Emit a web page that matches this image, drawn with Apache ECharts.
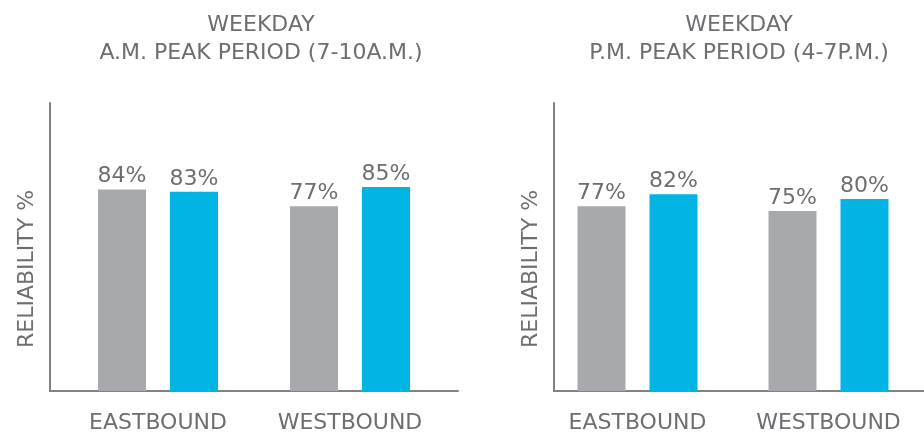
<!DOCTYPE html>
<html>
<head>
<meta charset="utf-8">
<script src="https://cdn.jsdelivr.net/npm/echarts@6/dist/echarts.min.js"></script>
<style>html,body{margin:0;padding:0;background:#fff;}#c{width:924px;height:434px;}</style>
</head>
<body>
<div id="c"></div>
<script>
const categories = ['EASTBOUND', 'WESTBOUND'];
const amGray = [84, 77];
const amBlue = [83, 85];
const pmGray = [77, 75];
const pmBlue = [82, 80];
const titles = ['WEEKDAY\nA.M. PEAK PERIOD (7-10A.M.)', 'WEEKDAY\nP.M. PEAK PERIOD (4-7P.M.)'];
const yName = 'RELIABILITY %';

const FONT = 'DejaVu Sans';
const FS = 22;
const TXT = '#6d6e71';
const AX = '#808285';
const GRAY = '#a7a9ac';
const BLUE = '#00b4e3';

const chart = echarts.init(document.getElementById('c'), null, {renderer: 'canvas'});

function axisX(gi) {
  return {type: 'value', gridIndex: gi, min: 0, max: 1,
    axisLine: {show: true, onZero: false, lineStyle: {color: AX, width: 2}},
    axisTick: {show: false}, axisLabel: {show: false}, splitLine: {show: false}};
}
function axisY(gi) {
  return {type: 'value', gridIndex: gi, min: 0, max: 1,
    name: yName, nameLocation: 'middle', nameGap: 12, nameRotate: 90,
    nameTextStyle: {fontFamily: FONT, fontSize: FS, color: TXT, padding: [0, 44, 0, 0]},
    axisLine: {show: true, lineStyle: {color: AX, width: 2}},
    axisTick: {show: false}, axisLabel: {show: false}, splitLine: {show: false}};
}
function barX(gi) {
  return {type: 'category', gridIndex: gi, data: categories,
    axisLine: {show: false}, axisTick: {show: false},
    axisLabel: {fontFamily: FONT, fontSize: FS, color: TXT, margin: 21}};
}
function barY(gi) {
  return {type: 'value', gridIndex: gi, min: 0, max: 120,
    axisLine: {show: false}, axisTick: {show: false}, axisLabel: {show: false}, splitLine: {show: false}};
}
function bar(xi, data, color) {
  return {type: 'bar', xAxisIndex: xi, yAxisIndex: xi, data: data, barWidth: 48, barGap: '50%',
    itemStyle: {color: color},
    label: {show: true, position: 'top', distance: 2, formatter: '{c}%',
      fontFamily: FONT, fontSize: FS, color: TXT}};
}

chart.setOption({
  animation: false,
  title: [
    {text: titles[0], left: 256, top: 6, textAlign: 'center',
      textStyle: {fontFamily: FONT, fontSize: FS, fontWeight: 'normal', color: TXT, lineHeight: 28}},
    {text: titles[1], left: 734, top: 6, textAlign: 'center',
      textStyle: {fontFamily: FONT, fontSize: FS, fontWeight: 'normal', color: TXT, lineHeight: 28}}
  ],
  grid: [
    {left: 50, top: 103, width: 408, height: 288},
    {left: 62, top: 103, width: 384, height: 288},
    {left: 554, top: 103, width: 370, height: 288},
    {left: 542, top: 103, width: 384, height: 288}
  ],
  xAxis: [axisX(0), barX(1), axisX(2), barX(3)],
  yAxis: [axisY(0), barY(1), axisY(2), barY(3)],
  series: [
    bar(1, amGray, GRAY),
    bar(1, amBlue, BLUE),
    bar(3, pmGray, GRAY),
    bar(3, pmBlue, BLUE)
  ]
});
</script>
</body>
</html>
